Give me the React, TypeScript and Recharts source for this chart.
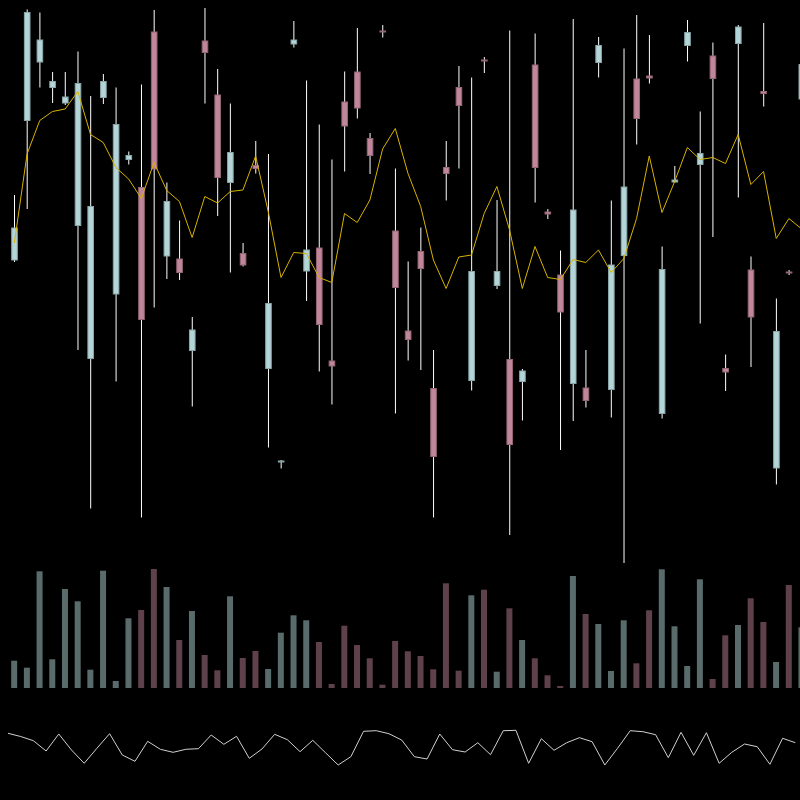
import React from 'react';
import { ComposedChart, BarChart, LineChart, Bar, Line, Cell, XAxis, YAxis } from 'recharts';

const opens = [
    118.0, 145.9, 157.6, 152.5, 149.4, 124.9, 98.3, 150.5, 111.2, 138.1,
    132.5, 163.6, 118.8, 118.2, 99.9, 161.8, 151.0, 133.5, 119.3, 136.9,
    96.3, 77.6, 161.2, 115.8, 120.4, 97.8, 149.6, 155.6, 142.3, 163.8,
    123.8, 103.8, 119.7, 92.3, 136.5, 152.5, 93.9, 158.0, 112.9, 98.1,
    93.7, 157.0, 127.6, 115.0, 93.3, 92.4, 157.5, 92.1, 118.9, 154.2,
    154.8, 87.3, 133.6, 160.9, 137.1, 158.8, 96.3, 161.3, 116.0, 151.7,
    76.4, 115.6, 150.2,
];
const highs = [
    131.0, 168.1, 167.5, 155.6, 155.6, 159.7, 150.8, 155.2, 152.5, 139.7,
    153.1, 168.0, 133.5, 125.9, 106.6, 168.4, 156.2, 149.3, 121.4, 141.8,
    139.2, 78.0, 165.8, 153.9, 145.1, 138.1, 155.7, 164.4, 143.4, 165.0,
    136.3, 117.7, 124.5, 100.0, 141.8, 156.8, 154.5, 158.6, 130.0, 163.9,
    96.2, 163.3, 128.2, 119.9, 166.2, 100.0, 162.6, 129.9, 160.3, 167.0,
    163.0, 120.7, 136.8, 166.0, 147.7, 161.5, 99.1, 165.0, 118.7, 165.4,
    110.3, 116.0, 159.0,
];
const lows = [
    117.6, 128.2, 152.5, 149.4, 149.0, 100.0, 68.3, 149.2, 93.7, 137.1,
    66.5, 108.5, 114.2, 114.0, 88.7, 149.3, 126.8, 115.5, 116.7, 135.3,
    80.5, 76.3, 160.5, 109.8, 95.7, 89.1, 135.7, 146.3, 135.2, 162.5,
    87.3, 97.9, 96.0, 66.5, 129.9, 136.3, 91.9, 155.4, 112.2, 63.0,
    85.9, 129.5, 126.2, 80.0, 85.8, 88.5, 154.5, 86.5, 57.4, 141.1,
    153.3, 86.3, 133.5, 157.7, 105.3, 122.6, 91.8, 130.5, 96.6, 148.7,
    73.1, 115.0, 148.0,
];
const closes = [
    124.4, 167.5, 162.0, 153.7, 150.6, 153.3, 128.7, 153.7, 145.1, 138.9,
    106.1, 136.2, 129.7, 115.5, 104.0, 159.5, 134.5, 139.5, 117.0, 136.3,
    109.3, 77.8, 162.0, 120.0, 105.1, 96.8, 144.8, 148.4, 138.9, 163.6,
    112.5, 102.1, 116.3, 78.7, 135.3, 148.9, 115.7, 157.8, 115.7, 81.1,
    95.8, 136.5, 127.2, 107.6, 128.0, 89.9, 160.9, 117.0, 132.6, 146.3,
    154.4, 116.1, 134.0, 163.5, 139.3, 154.3, 95.6, 164.6, 106.6, 151.3,
    103.7, 115.4, 157.1,
];
const movingAvg = [
    121.4, 139.2, 145.9, 147.7, 148.2, 151.7, 143.1, 141.5, 136.5, 134.2,
    130.3, 137.5, 131.9, 129.7, 122.5, 130.7, 129.4, 131.7, 132.0, 138.8,
    127.6, 114.5, 119.5, 119.3, 114.5, 113.5, 127.3, 125.5, 130.0, 140.2,
    144.3, 135.3, 128.7, 118.0, 112.3, 118.6, 119.0, 127.3, 132.7, 124.0,
    112.3, 120.7, 114.5, 114.1, 118.1, 117.5, 120.0, 115.5, 118.3, 126.3,
    138.8, 127.5, 133.7, 140.5, 138.1, 138.5, 137.3, 143.1, 133.1, 135.7,
    122.3, 126.3, 124.2,
];
const volumes = [
    2730, 2030, 11670, 2870, 9900, 8670, 1830, 11730, 700, 6970,
    7800, 11900, 10100, 4800, 7700, 3300, 1770, 9170, 3000, 3700,
    1900, 5530, 7270, 6770, 4600, 400, 6230, 4300, 2970, 330,
    4700, 3670, 3200, 1870, 10470, 1730, 9270, 9830, 1630, 7970,
    4800, 2970, 1270, 200, 11200, 7400, 6400, 1700, 6770, 2470,
    7770, 11870, 6170, 2200, 10870, 900, 5270, 6300, 8970, 6600,
    2600, 10300, 6070,
];
const oscillator = [
    83.4, 77.0, 68.6, 48.0, 82.0, 50.0, 23.4, 53.4, 82.6, 40.0,
    27.4, 67.4, 51.4, 45.4, 51.4, 52.6, 80.0, 61.4, 77.4, 33.4,
    52.0, 81.4, 70.6, 46.6, 69.4, 44.6, 20.0, 36.6, 87.4, 88.6,
    82.6, 70.0, 36.6, 32.0, 82.0, 50.6, 46.0, 64.6, 40.6, 88.6,
    89.4, 23.4, 72.6, 49.4, 64.6, 74.6, 66.6, 20.0, 53.4, 88.6,
    86.6, 80.6, 34.6, 85.4, 39.4, 84.6, 23.4, 45.4, 62.0, 56.6,
    21.4, 73.4, 64.6,
];

const UP = '#b3d5d8';
const DOWN = '#c0869b';
const UP_VOL = '#5a6b6c';
const DOWN_VOL = '#5f414c';

const rows = opens.map((open, i) => ({
    i,
    open,
    high: highs[i],
    low: lows[i],
    close: closes[i],
    ma: movingAvg[i],
    vol: volumes[i],
    osc: oscillator[i],
}));

function Candle(props: any) {
    const { x, y, width, height, payload } = props;
    const { open, close, high, low } = payload;
    const top = Math.min(y, y + height);
    const bottom = Math.max(y, y + height);
    const perUnit = (bottom - top) / (high - low || 1);
    const toPx = (v: number) => top + (high - v) * perUnit;
    const cx = x + width / 2;
    const up = close >= open;
    const bodyTop = toPx(Math.max(open, close));
    const bodyH = Math.max(1, toPx(Math.min(open, close)) - bodyTop);
    const bodyW = 5.6;
    return (
        <g>
            <line x1={cx} x2={cx} y1={top} y2={bottom} stroke="#ffffff" strokeWidth={1} />
            <rect
                x={cx - bodyW / 2}
                y={bodyTop}
                width={bodyW}
                height={bodyH}
                fill={up ? UP : DOWN}
                stroke={up ? '#8aa6a8' : '#956675'}
                strokeWidth={1}
            />
        </g>
    );
}

export default function App() {
    return (
        <div style={{ position: 'absolute', left: 0, top: 0, width: 800, height: 800, background: '#000', overflow: 'hidden' }}>
            {/* price pane */}
            <div style={{ position: 'absolute', left: 8, top: 0 }}>
                <ComposedChart width={800} height={600} data={rows} margin={{ top: 0, right: 0, bottom: 0, left: 0 }} barCategoryGap={0}>
                    <XAxis dataKey="i" hide />
                    <YAxis hide domain={[50, 170]} allowDataOverflow />
                    <Bar dataKey={(d: any) => [d.low, d.high]} shape={Candle} isAnimationActive={false} />
                    <Line dataKey="ma" stroke="#d9b300" strokeWidth={1} dot={false} type="linear" isAnimationActive={false} />
                </ComposedChart>
            </div>
            {/* volume pane */}
            <div style={{ position: 'absolute', left: 8, top: 560 }}>
                <BarChart width={800} height={128} data={rows} margin={{ top: 0, right: 0, bottom: 0, left: 0 }} barCategoryGap="25%">
                    <XAxis dataKey="i" hide />
                    <YAxis hide domain={[0, 12800]} allowDataOverflow />
                    <Bar dataKey="vol" isAnimationActive={false}>
                        {rows.map((r) => (
                            <Cell key={r.i} fill={r.close >= r.open ? UP_VOL : DOWN_VOL} />
                        ))}
                    </Bar>
                </BarChart>
            </div>
            {/* oscillator pane */}
            <div style={{ position: 'absolute', left: 8, top: 725 }}>
                <LineChart width={800} height={50} data={rows} margin={{ top: 0, right: 0, bottom: 0, left: 0 }}>
                    <XAxis dataKey="i" type="number" domain={[0, 63]} hide />
                    <YAxis hide domain={[0, 100]} allowDataOverflow />
                    <Line dataKey="osc" stroke="#d0d0d0" strokeWidth={1} dot={false} type="linear" isAnimationActive={false} />
                </LineChart>
            </div>
        </div>
    );
}
